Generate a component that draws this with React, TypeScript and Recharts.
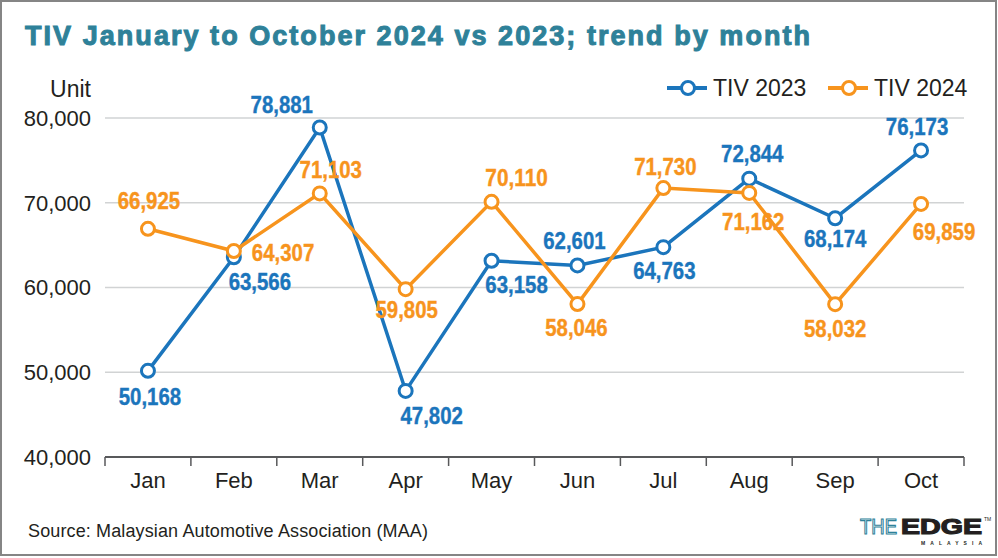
import { LineChart, Line, XAxis, YAxis, CartesianGrid, LabelList } from 'recharts'

const months = ['Jan', 'Feb', 'Mar', 'Apr', 'May', 'Jun', 'Jul', 'Aug', 'Sep', 'Oct']
const tiv2023 = [50168, 63566, 78881, 47802, 63158, 62601, 64763, 72844, 68174, 76173]
const tiv2024 = [66925, 64307, 71103, 59805, 70110, 58046, 71730, 71162, 58032, 69859]
const yTicks = [40000, 50000, 60000, 70000, 80000]
const seriesNames = ['TIV 2023', 'TIV 2024']

const BLUE = '#1b75bc'
const ORANGE = '#f7941d'
const INK = '#231f20'
const TEAL = '#2e8199'

// where each value label sits relative to its point: dx, dy, anchor
type Place = [number, number, 'start' | 'middle' | 'end']
const place2023: Place[] = [
  [2, 34, 'middle'], [26, 33, 'middle'], [-38, -14, 'middle'], [26, 33, 'middle'], [25, 32, 'middle'],
  [-3, -16, 'middle'], [1, 32, 'middle'], [3, -17, 'middle'], [0, 29, 'middle'], [-4, -15, 'middle'],
]
const place2024: Place[] = [
  [1, -20, 'middle'], [18, 10, 'start'], [11, -15, 'middle'], [1, 29, 'middle'], [25, -16, 'middle'],
  [-1, 32, 'middle'], [2, -13, 'middle'], [4, 37, 'middle'], [0, 33, 'middle'], [23, 36, 'middle'],
]

const data = months.map((m, i) => ({ month: m, y2023: tiv2023[i], y2024: tiv2024[i] }))

const W = 998
const H = 558
const PLOT_LEFT = 105
const PLOT_RIGHT = 964
const PLOT_TOP = 118
const PLOT_BOTTOM = 457
const HALF_STEP = (PLOT_RIGHT - PLOT_LEFT) / months.length / 2
const X_AXIS_H = 40

const sans = "'Liberation Sans', Arial, Helvetica, sans-serif"

const fmt = (v: number) => v.toLocaleString('en-US')

function MonthTick(props: any) {
  const { x, payload, index } = props
  const tickStroke = { stroke: '#58595b', strokeWidth: 1.5 }
  return (
    <g>
      <line x1={x - HALF_STEP} x2={x - HALF_STEP} y1={PLOT_BOTTOM} y2={PLOT_BOTTOM + 9} {...tickStroke} />
      {index === months.length - 1 && (
        <line x1={x + HALF_STEP} x2={x + HALF_STEP} y1={PLOT_BOTTOM} y2={PLOT_BOTTOM + 9} {...tickStroke} />
      )}
      <text x={x} y={PLOT_BOTTOM + 31} textAnchor="middle" fill={INK} fontSize={22} fontFamily={sans}>
        {payload.value}
      </text>
    </g>
  )
}

// condensed bold look: squeeze Liberation Sans Bold to the width of the reference labels
function makeLabel(places: Place[], color: string) {
  return (props: any) => {
    const { index, value } = props
    const x = props.x ?? props.viewBox?.x
    const y = props.y ?? props.viewBox?.y
    const [dx, dy, anchor] = places[index] ?? [0, -15, 'middle']
    const text = fmt(Number(value))
    return (
      <text
        x={x + dx}
        y={y + dy}
        textAnchor={anchor}
        fill={color}
        stroke={color}
        strokeWidth={0.4}
        fontSize={24}
        fontWeight="bold"
        fontFamily={sans}
        textLength={text.length * 10.4}
        lengthAdjust="spacingAndGlyphs"
      >
        {text}
      </text>
    )
  }
}

function Overlay() {
  const legendItems = [
    { name: seriesNames[0], color: BLUE, x: 667 },
    { name: seriesNames[1], color: ORANGE, x: 828 },
  ]
  return (
    <svg width={W} height={H} style={{ position: 'absolute', left: 0, top: 0, pointerEvents: 'none' }}>
      <rect x={1} y={1} width={995} height={554} fill="none" stroke="#858585" strokeWidth={2} />
      <text
        x={25}
        y={45}
        fill={TEAL}
        stroke={TEAL}
        strokeWidth={1}
        fontSize={27}
        fontWeight="bold"
        fontFamily={sans}
        textLength={785}
        lengthAdjust="spacing"
      >
        TIV January to October 2024 vs 2023; trend by month
      </text>
      <text x={91} y={97} textAnchor="end" fill={INK} fontSize={23} fontFamily={sans}>
        Unit
      </text>
      {legendItems.map((it) => (
        <g key={it.name}>
          <line x1={it.x} x2={it.x + 40} y1={88} y2={88} stroke={it.color} strokeWidth={4} />
          <circle cx={it.x + 21} cy={88} r={6.5} fill="#fff" stroke={it.color} strokeWidth={3} />
          <text x={it.x + 46} y={96} fill={INK} fontSize={23} fontFamily={sans}>
            {it.name}
          </text>
        </g>
      ))}
      <text x={28} y={537} fill={INK} fontSize={18} fontFamily={sans} textLength={400}>
        Source: Malaysian Automotive Association (MAA)
      </text>
      <text
        x={860}
        y={534}
        fontSize={22}
        fontFamily={sans}
        fill="#fff"
        stroke={TEAL}
        strokeWidth={1.2}
        textLength={37}
        lengthAdjust="spacingAndGlyphs"
      >
        THE
      </text>
      <text
        x={901}
        y={534}
        fontSize={22}
        fontFamily={sans}
        fill={INK}
        stroke={INK}
        strokeWidth={1.2}
        fontWeight="bold"
        textLength={81}
        lengthAdjust="spacingAndGlyphs"
      >
        EDGE
      </text>
      <text x={984} y={521} fontSize={5} fontFamily={sans} fill={INK}>
        TM
      </text>
      <text x={921} y={545} fill={INK} fontSize={5} fontWeight="bold" fontFamily={sans} textLength={61}>
        MALAYSIA
      </text>
    </svg>
  )
}

export default function App() {
  return (
    <div style={{ position: 'absolute', left: 0, top: 0, width: W, height: H, background: '#fff' }}>
      <LineChart
        width={W}
        height={H}
        data={data}
        margin={{ top: PLOT_TOP, right: W - PLOT_RIGHT, left: 0, bottom: H - PLOT_BOTTOM - X_AXIS_H }}
      >
        <CartesianGrid vertical={false} stroke="#d1d3d4" strokeWidth={1.5} />
        <XAxis
          dataKey="month"
          height={X_AXIS_H}
          padding={{ left: HALF_STEP, right: HALF_STEP }}
          axisLine={{ stroke: '#58595b', strokeWidth: 2 }}
          tickLine={false}
          tickSize={0}
          tick={<MonthTick />}
          interval={0}
        />
        <YAxis
          width={PLOT_LEFT}
          domain={[40000, 80000]}
          ticks={yTicks}
          allowDataOverflow
          axisLine={false}
          tickLine={false}
          tickSize={0}
          tickMargin={14}
          tickFormatter={fmt}
          tick={{ fill: INK, fontSize: 22, fontFamily: sans }}
        />
        <Line
          dataKey="y2023"
          name={seriesNames[0]}
          stroke={BLUE}
          strokeWidth={3.5}
          dot={{ r: 6.5, fill: '#fff', stroke: BLUE, strokeWidth: 3 }}
          isAnimationActive={false}
        >
          <LabelList dataKey="y2023" content={makeLabel(place2023, BLUE)} />
        </Line>
        <Line
          dataKey="y2024"
          name={seriesNames[1]}
          stroke={ORANGE}
          strokeWidth={3.5}
          dot={{ r: 6.5, fill: '#fff', stroke: ORANGE, strokeWidth: 3 }}
          isAnimationActive={false}
        >
          <LabelList dataKey="y2024" content={makeLabel(place2024, ORANGE)} />
        </Line>
      </LineChart>
      <Overlay />
    </div>
  )
}
